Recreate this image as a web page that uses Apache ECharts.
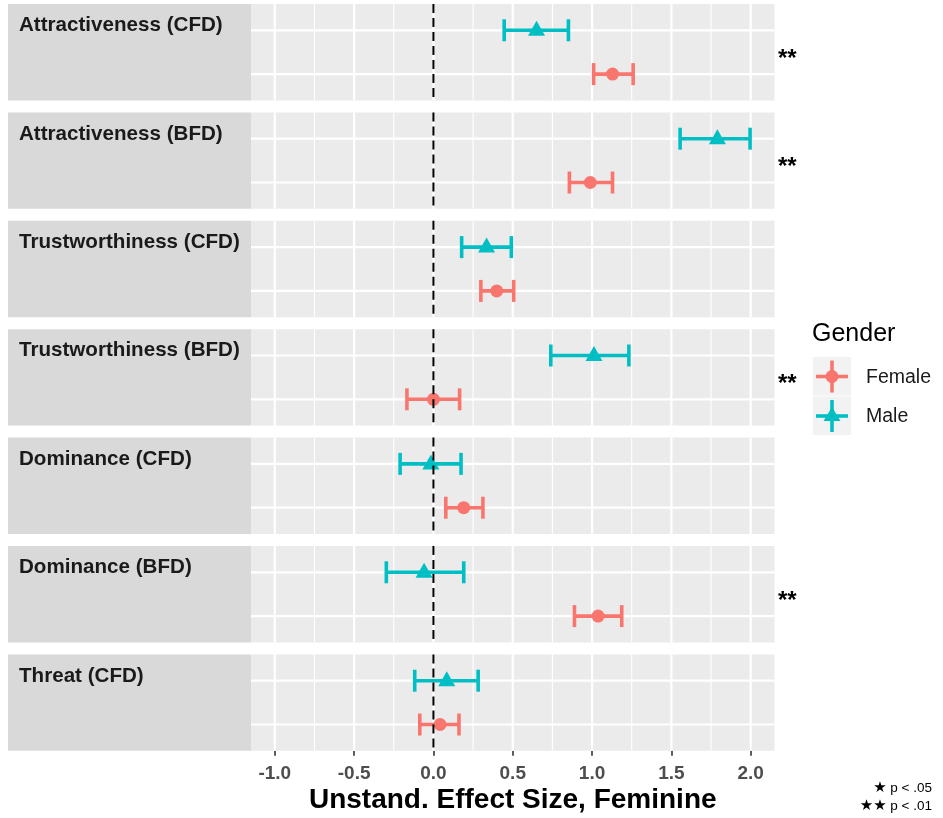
<!DOCTYPE html>
<html><head><meta charset="utf-8">
<script src="https://cdn.jsdelivr.net/npm/echarts@6/dist/echarts.min.js"></script>
<style>html,body{margin:0;padding:0;background:#fff}#c{width:943px;height:818px}</style>
</head><body><div id="c"></div>
<script>
// ---------- data ----------
const categories = ['Attractiveness (CFD)','Attractiveness (BFD)','Trustworthiness (CFD)','Trustworthiness (BFD)','Dominance (CFD)','Dominance (BFD)','Threat (CFD)'];
const genders = ['Female','Male'];
const maleEst  = [0.650, 1.790, 0.335, 1.012, -0.016, -0.059, 0.084];
const maleLow  = [0.446, 1.555, 0.178, 0.740, -0.210, -0.297, -0.118];
const maleHigh = [0.851, 1.996, 0.491, 1.232, 0.174, 0.191, 0.282];
const femaleEst  = [1.129, 0.989, 0.399, 0.000, 0.191, 1.038, 0.042];
const femaleLow  = [1.010, 0.857, 0.299, -0.167, 0.078, 0.889, -0.086];
const femaleHigh = [1.259, 1.129, 0.506, 0.165, 0.312, 1.187, 0.161];
const significance = ['**','**','','**','','**',''];
const xTicks = [-1.0, -0.5, 0.0, 0.5, 1.0, 1.5, 2.0];
const xMinorTicks = [-0.75, -0.25, 0.25, 0.75, 1.25, 1.75];
const xTitle = 'Unstand. Effect Size, Feminine';
const legendTitle = 'Gender';
const footnotes = [['★', 'p < .05'], ['★★', 'p < .01']];

// ---------- layout / style ----------
const FONT = '"Liberation Sans", Arial, sans-serif';
const COL = { Female: '#F8766D', Male: '#00BFC4' };
const L = { top: 4, panelH: 96.4, gap: 12, left: 251, right: 774.5, stripLeft: 8 };
const xMin = -1.15, xMax = 2.15;
const rowOf = { Female: 1, Male: 2 }; // discrete positions on y scale

const chart = echarts.init(document.getElementById('c'), null, { renderer: 'canvas' });

const grids = [], xAxes = [], yAxes = [], series = [], graphics = [];

function vLineSeries(i, vals, width, dash, color, z) {
  return {
    type: 'custom', xAxisIndex: i, yAxisIndex: i, z: z, silent: true,
    data: vals.map(v => [v]),
    renderItem: (params, api) => {
      const cs = params.coordSys;
      const x = api.coord([api.value(0), 1])[0];
      return { type: 'line', shape: { x1: x, y1: cs.y, x2: x, y2: cs.y + cs.height },
               style: { stroke: color, lineWidth: width, lineDash: dash } };
    }
  };
}
function hLineSeries(i, vals, width, color, z) {
  return {
    type: 'custom', xAxisIndex: i, yAxisIndex: i, z: z, silent: true,
    data: vals.map(v => [v]),
    renderItem: (params, api) => {
      const cs = params.coordSys;
      const y = api.coord([0, api.value(0)])[1];
      return { type: 'line', shape: { x1: cs.x, y1: y, x2: cs.x + cs.width, y2: y },
               style: { stroke: color, lineWidth: width } };
    }
  };
}
function errSeries(i, g, lo, hi) {
  return {
    type: 'custom', xAxisIndex: i, yAxisIndex: i, z: 5, silent: true,
    data: [[lo, hi, rowOf[g]]],
    renderItem: (params, api) => {
      const a = api.coord([api.value(0), api.value(2)]);
      const b = api.coord([api.value(1), api.value(2)]);
      const cap = 11, st = { stroke: COL[g], lineWidth: 3.6 };
      return { type: 'group', children: [
        { type: 'line', shape: { x1: a[0], y1: a[1], x2: b[0], y2: b[1] }, style: st },
        { type: 'line', shape: { x1: a[0], y1: a[1] - cap, x2: a[0], y2: a[1] + cap }, style: st },
        { type: 'line', shape: { x1: b[0], y1: b[1] - cap, x2: b[0], y2: b[1] + cap }, style: st }
      ]};
    }
  };
}

categories.forEach((cat, i) => {
  const top = L.top + i * (L.panelH + L.gap);
  const last = i === categories.length - 1;
  grids.push({ left: L.left, top: top, width: L.right - L.left, height: L.panelH,
               show: true, backgroundColor: '#ebebeb', borderWidth: 0 });
  xAxes.push({
    gridIndex: i, type: 'value', min: xMin, max: xMax,
    axisLine: { show: false }, splitLine: { show: false },
    axisTick: { show: last, customValues: xTicks, length: 5, lineStyle: { color: '#333', width: 1.6 } },
    axisLabel: { show: last, customValues: xTicks, formatter: v => v.toFixed(1), color: '#4d4d4d',
                 fontWeight: 'bold', fontSize: 19, margin: 13, fontFamily: FONT },
    name: last ? xTitle : '', nameLocation: 'middle', nameGap: 35,
    nameTextStyle: { fontSize: 28, fontWeight: 'bold', color: '#000', fontFamily: FONT }
  });
  yAxes.push({ gridIndex: i, type: 'value', min: 0.4, max: 2.6, show: false });

  series.push(vLineSeries(i, xMinorTicks, 1.1, null, '#ffffff', 1));
  series.push(vLineSeries(i, xTicks, 2.2, null, '#ffffff', 1));
  series.push(hLineSeries(i, [rowOf.Female, rowOf.Male], 2.2, '#ffffff', 1));
  series.push(errSeries(i, 'Female', femaleLow[i], femaleHigh[i]));
  series.push(errSeries(i, 'Male', maleLow[i], maleHigh[i]));
  series.push({ type: 'scatter', xAxisIndex: i, yAxisIndex: i, z: 6, silent: true,
    symbol: 'circle', symbolSize: 13, itemStyle: { color: COL.Female, opacity: 1 },
    data: [[femaleEst[i], rowOf.Female]] });
  series.push({ type: 'scatter', xAxisIndex: i, yAxisIndex: i, z: 6, silent: true,
    symbol: 'triangle', symbolSize: [17, 15], symbolOffset: [0, -2], itemStyle: { color: COL.Male, opacity: 1 },
    data: [[maleEst[i], rowOf.Male]] });
  series.push(vLineSeries(i, [0], 2, [9, 5], '#000000', 8));

  // strip
  graphics.push({ type: 'rect', left: L.stripLeft, top: top, shape: { width: L.left - L.stripLeft, height: L.panelH },
                  style: { fill: '#d9d9d9' }, silent: true });
  graphics.push({ type: 'text', x: 19, y: top + 21.5,
                  style: { text: cat, font: 'bold 20.6px ' + FONT, fill: '#1a1a1a', verticalAlign: 'middle', align: 'left' } });
  if (significance[i]) {
    graphics.push({ type: 'text', x: 778, y: top + L.panelH / 2 + 7,
                    style: { text: significance[i], font: 'bold 24px ' + FONT, fill: '#000', verticalAlign: 'middle', align: 'left' } });
  }
});

// legend
graphics.push({ type: 'text', x: 812, y: 334, style: { text: legendTitle, font: '25px ' + FONT, fill: '#000', verticalAlign: 'middle' } });
genders.forEach((g, k) => {
  const y0 = 357 + k * 39.5, cy = y0 + 19.5, cx = 832;
  graphics.push({ type: 'rect', left: 813, top: y0, shape: { width: 38, height: 38.5 }, style: { fill: '#f2f2f2' } });
  graphics.push({ type: 'line', shape: { x1: cx, y1: cy - 16, x2: cx, y2: cy + 16 }, style: { stroke: COL[g], lineWidth: 3.6 } });
  graphics.push({ type: 'line', shape: { x1: 816, y1: cy, x2: 848, y2: cy }, style: { stroke: COL[g], lineWidth: 3.6 } });
  if (g === 'Female') {
    graphics.push({ type: 'circle', shape: { cx: cx, cy: cy, r: 6.5 }, style: { fill: COL[g] } });
  } else {
    graphics.push({ type: 'polygon', shape: { points: [[cx, cy - 9], [cx - 8.5, cy + 5], [cx + 8.5, cy + 5]] }, style: { fill: COL[g] } });
  }
  graphics.push({ type: 'text', x: 866, y: cy + 1, style: { text: g, font: '19.5px ' + FONT, fill: '#1a1a1a', verticalAlign: 'middle' } });
});

// footnotes
footnotes.forEach((f, k) => {
  graphics.push({ type: 'text', x: 932, y: 788 + k * 18,
    style: { text: '{s|' + f[0] + '} ' + f[1], align: 'right', verticalAlign: 'middle',
             font: '13.5px ' + FONT, fill: '#000',
             rich: { s: { fontSize: 15, fontFamily: '"DejaVu Sans"', fill: '#000' } } } });
});

chart.setOption({
  animation: false,
  backgroundColor: '#ffffff',
  grid: grids, xAxis: xAxes, yAxis: yAxes, series: series,
  graphic: { elements: graphics }
});
</script>
</body></html>
